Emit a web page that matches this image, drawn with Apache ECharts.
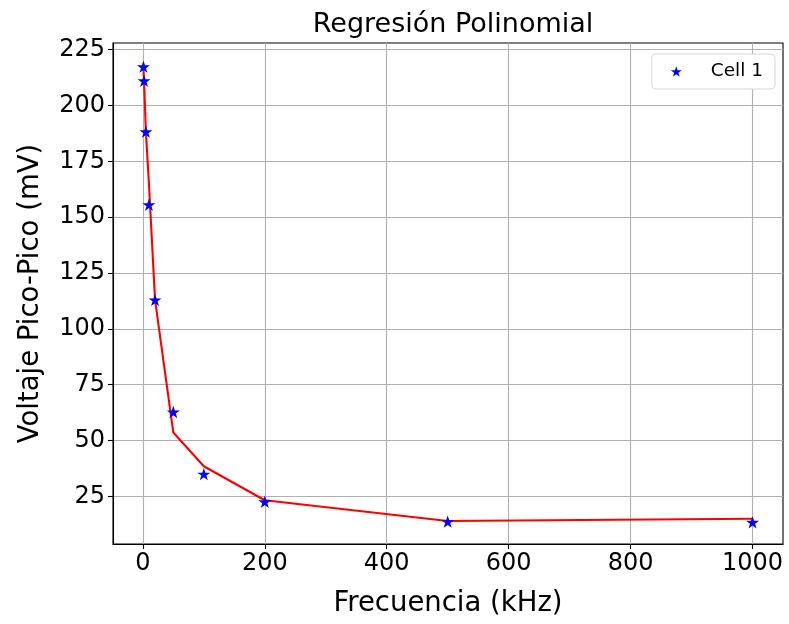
<!DOCTYPE html>
<html>
<head>
<meta charset="utf-8">
<script src="https://cdn.jsdelivr.net/npm/echarts@6/dist/echarts.min.js"></script>
<style>html,body{margin:0;padding:0;background:#fff}#c{width:789px;height:624px}</style>
</head>
<body>
<div id="c"></div>
<script>
const freqs = [1, 2, 5, 10, 20, 50, 100, 200, 500, 1000];
const measured = [217.4, 211.1, 188.3, 155.6, 113, 62.8, 35, 22.6, 13.7, 13.4];
const fitted = [216, 211, 188, 165, 113, 53.6, 38.5, 23.3, 14, 15];
const xTicks = [0, 200, 400, 600, 800, 1000];
const yTicks = [25, 50, 75, 100, 125, 150, 175, 200, 225];

const STAR = 'path://M50 0 L61.23 34.55 L97.55 34.55 L68.16 55.9 L79.39 90.45 L50 69.1 L20.61 90.45 L31.84 55.9 L2.45 34.55 L38.77 34.55 Z';
const F = 'DejaVu Sans';
const chart = echarts.init(document.getElementById('c'));
chart.setOption({
  animation: false,
  title: {
    text: 'Regresión Polinomial', left: 448, top: 6, textAlign: 'center',
    textStyle: {fontFamily: F, fontSize: 27, fontWeight: 'normal', color: '#000'}
  },
  legend: {
    right: 14, top: 54, orient: 'vertical',
    backgroundColor: '#fff', borderColor: '#d6d6d6', borderWidth: 1, borderRadius: 4,
    padding: [8, 12, 8, 19], itemWidth: 11, itemHeight: 11,
    data: [{name: 'Cell 1', icon: STAR, itemStyle: {color: '#0000ff', opacity: 1}}],
    textStyle: {fontFamily: F, fontSize: 18.5, color: '#000', padding: [0, 0, 0, 24]}
  },
  grid: {left: 113, right: 6, top: 43, bottom: 80, show: true, borderColor: '#000', borderWidth: 1.1, backgroundColor: 'transparent'},
  xAxis: {
    type: 'value', min: -48.95, max: 1049.95,
    name: 'Frecuencia (kHz)', nameLocation: 'middle', nameGap: 46,
    nameTextStyle: {fontFamily: F, fontSize: 27.5, color: '#000'},
    axisLine: {show: true, onZero: false, lineStyle: {color: '#000', width: 1.1}},
    axisTick: {show: true, inside: false, length: 5, customValues: xTicks, lineStyle: {color: '#000', width: 1.1}},
    axisLabel: {customValues: xTicks, fontFamily: F, fontSize: 24, color: '#000', margin: 8, formatter: v => String(v)},
    splitLine: {show: true, lineStyle: {color: '#b0b0b0', width: 1.1}}
  },
  yAxis: {
    type: 'value', min: 3.7, max: 228,
    name: 'Voltaje Pico-Pico (mV)', nameLocation: 'middle', nameGap: 68,
    nameTextStyle: {fontFamily: F, fontSize: 27.5, color: '#000'},
    axisLine: {show: true, onZero: false, lineStyle: {color: '#000', width: 1.1}},
    axisTick: {show: true, inside: false, length: 5, customValues: yTicks, lineStyle: {color: '#000', width: 1.1}},
    axisLabel: {customValues: yTicks, fontFamily: F, fontSize: 24, color: '#000', margin: 8, formatter: v => String(v)},
    splitLine: {show: true, lineStyle: {color: '#b0b0b0', width: 1.1}}
  },
  series: [
    {
      name: 'Cell 1', type: 'scatter', symbol: STAR, symbolSize: 13, symbolKeepAspect: true,
      itemStyle: {color: '#0000ff', opacity: 1}, z: 3,
      data: freqs.map((f, i) => [f, measured[i]])
    },
    {
      name: 'fit', type: 'line', showSymbol: false, symbol: 'none', z: 2,
      lineStyle: {color: '#ff0000', width: 2.1},
      data: freqs.map((f, i) => [f, fitted[i]])
    }
  ]
});
</script>
</body>
</html>
